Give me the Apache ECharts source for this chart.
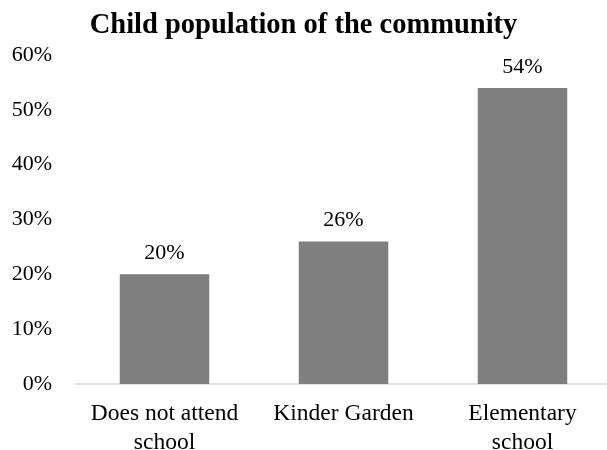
<!DOCTYPE html>
<html>
<head>
<meta charset="utf-8">
<script src="https://cdn.jsdelivr.net/npm/echarts@6/dist/echarts.min.js"></script>
<style>
html,body{margin:0;padding:0;background:#fff;}
#chart{width:607px;height:450px;}
</style>
</head>
<body>
<div id="chart"></div>
<script>
const titleText = "Child population of the community";
const categories = ["Does not attend\nschool", "Kinder Garden", "Elementary\nschool"];
const values = [20, 26, 54];
const yTicks = { min: 0, max: 60, interval: 10 };

const FONT = "Liberation Serif, Times New Roman, serif";
const chart = echarts.init(document.getElementById('chart'));
chart.setOption({
  animation: false,
  title: {
    text: titleText,
    left: 'center',
    top: 6,
    textStyle: { fontFamily: FONT, fontWeight: 'bold', fontSize: 28.5, color: '#000' }
  },
  grid: { left: 75, right: -5, top: 55, bottom: 66, containLabel: false, outerBoundsMode: 'none' },
  xAxis: {
    type: 'category',
    data: categories,
    axisLine: { lineStyle: { color: '#d9d9d9', width: 1.5 } },
    axisTick: { show: false },
    axisLabel: { fontFamily: FONT, fontSize: 23.5, color: '#000', margin: 15, lineHeight: 29, interval: 0 }
  },
  yAxis: {
    type: 'value',
    min: yTicks.min, max: yTicks.max, interval: yTicks.interval,
    splitLine: { show: false },
    axisLine: { show: false },
    axisTick: { show: false },
    axisLabel: { fontFamily: FONT, fontSize: 22, color: '#000', margin: 23, formatter: v => v + '%' }
  },
  series: [{
    type: 'bar',
    data: values,
    barCategoryGap: '50%',
    itemStyle: { color: '#7f7f7f' },
    label: {
      show: true, position: 'top', distance: 10,
      fontFamily: FONT, fontSize: 22, color: '#000',
      formatter: p => p.value + '%'
    }
  }]
});
</script>
</body>
</html>
